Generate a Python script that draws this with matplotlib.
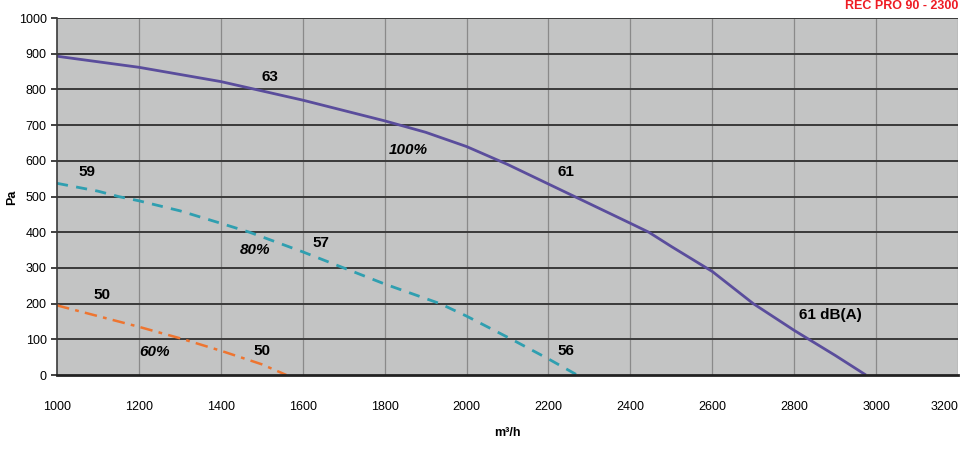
import matplotlib.pyplot as plt

# fan curves (airflow m3/h, pressure Pa)
flow_100 = [1000, 1200, 1400, 1600, 1800, 1900, 2000, 2100, 2200, 2300, 2400, 2445, 2500, 2600, 2700, 2800, 2900, 2975]
pa_100 = [893, 862, 822, 770, 712, 680, 640, 590, 535, 480, 425, 400, 360, 290, 200, 125, 55, 0]

flow_80 = [1000, 1100, 1150, 1200, 1300, 1400, 1470, 1600, 1700, 1800, 1935, 2000, 2110, 2200, 2270]
pa_80 = [537, 515, 500, 488, 460, 425, 400, 345, 300, 255, 200, 165, 100, 45, 0]

flow_60 = [1000, 1100, 1200, 1300, 1400, 1500, 1560]
pa_60 = [195, 165, 135, 103, 68, 30, 0]

# noise labels (x, y, text, italic)
labels = [
    (1520, 835, '63', False),
    (1857, 630, '100%', True),
    (2243, 569, '61', False),
    (1073, 569, '59', False),
    (1483, 350, '80%', True),
    (1645, 370, '57', False),
    (1110, 224, '50', False),
    (1239, 64, '60%', True),
    (1500, 68, '50', False),
    (2243, 68, '56', False),
    (2888, 168, '61 dB(A)', False),
]

x_ticks = list(range(1000, 3201, 200))
y_ticks = list(range(0, 1001, 100))

plt.rcParams['font.family'] = ['Liberation Sans', 'DejaVu Sans']

fig = plt.figure(figsize=(9.68, 4.51), dpi=100)
ax = fig.add_axes([0.0589, 0.1685, 0.9308, 0.7915])
ax.set_facecolor('#c3c4c4')

ax.plot(flow_100, pa_100, color='#5a4d9c', lw=2.0, solid_capstyle='butt')
ax.plot(flow_80, pa_80, color='#2f9fb0', lw=2.0, dashes=(4, 3))
ax.plot(flow_60, pa_60, color='#ee7530', lw=1.8, dashes=(5, 2.5, 1.5, 2.5))

for x, y, t, it in labels:
    ax.text(x, y, t, fontsize=11, fontweight='bold', ha='center', va='center',
            style='italic' if it else 'normal')

ax.set_xlim(1000, 3200)
ax.set_ylim(0, 1000)
ax.set_xticks(x_ticks)
ax.set_yticks(y_ticks)
ax.tick_params(axis='x', length=0, pad=19, labelsize=9)
ax.tick_params(axis='y', length=4, width=1.2, color='#222222', labelsize=9)
ax.get_xticklabels()[-1].set_horizontalalignment('right')

# horizontal grid dark, vertical grid light
for y in y_ticks[1:]:
    ax.axhline(y, color='#3a3a3a', lw=1.4, zorder=0.5)
for x in x_ticks[1:]:
    ax.axvline(x, color='#8a8a8a', lw=0.9, zorder=0.4)

for side in ['top', 'right']:
    ax.spines[side].set_visible(False)
ax.spines['left'].set_color('#3a3a3a')
ax.spines['left'].set_linewidth(1.2)
ax.spines['bottom'].set_color('#222222')
ax.spines['bottom'].set_linewidth(2.0)

ax.set_xlabel('m³/h', fontsize=9, fontweight='bold', labelpad=10)
fig.text(12 / 968, 1 - 197 / 451, 'Pa', fontsize=9, fontweight='bold',
         rotation=90, ha='center', va='center')

fig.text(0.99, 0.999, 'REC PRO 90 - 2300', color='#ee1c24', fontsize=9,
         fontweight='bold', ha='right', va='top')

fig.savefig('out.png', dpi=100)
